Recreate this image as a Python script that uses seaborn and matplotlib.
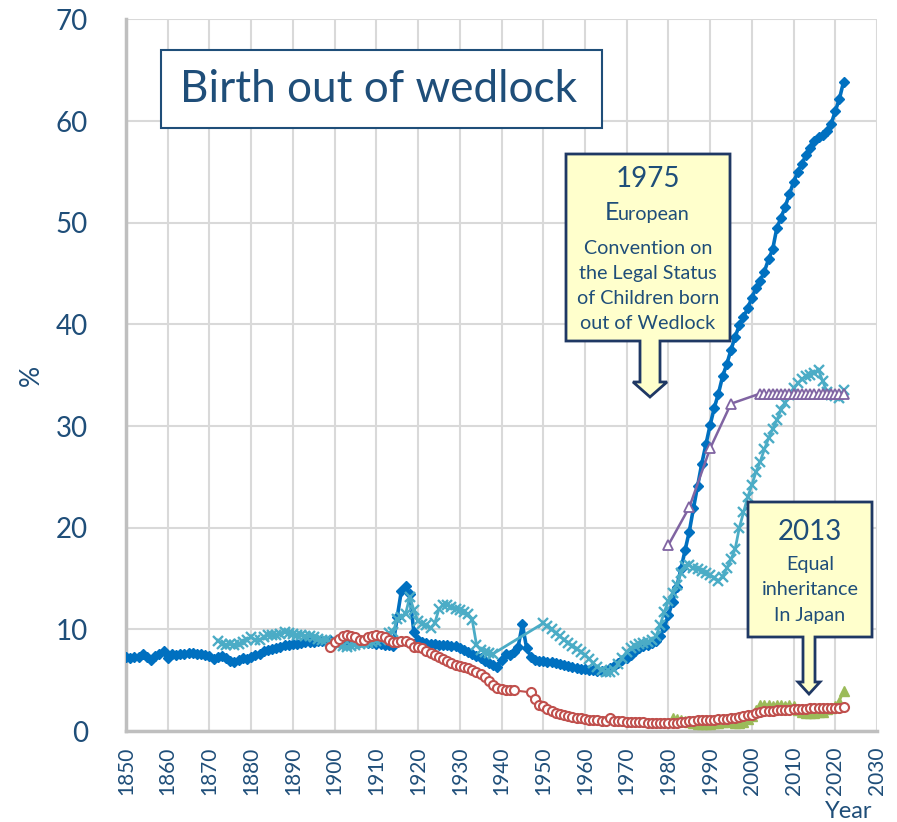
import matplotlib
matplotlib.use('Agg')
import matplotlib.pyplot as plt
import seaborn as sns
import pandas as pd
from matplotlib.patches import Polygon, Rectangle

# ---------------- data ----------------
blue_years = list(range(1850, 2023))
blue_vals = [
    7.3, 7.2, 7.3, 7.3, 7.6, 7.3, 7.0, 7.4, 7.6, 7.9,
    7.2, 7.6, 7.5, 7.6, 7.6, 7.7, 7.7, 7.6, 7.6, 7.5,
    7.4, 7.1, 7.3, 7.4, 7.2, 6.9, 6.8, 7.0, 7.2, 7.1,
    7.3, 7.5, 7.6, 7.9, 8.0, 8.1, 8.2, 8.3, 8.5, 8.5,
    8.6, 8.6, 8.7, 8.8, 8.8, 8.8, 8.9, 8.9, 8.9, 9.0,
    8.8, 8.9, 8.8, 8.8, 8.8, 8.9, 8.8, 8.8, 8.7, 8.7,
    8.6, 8.6, 8.5, 8.5, 8.4, 11.2, 13.8, 14.3, 13.5, 9.7,
    9.0, 8.8, 8.7, 8.6, 8.6, 8.5, 8.5, 8.5, 8.4, 8.4,
    8.2, 8.0, 7.8, 7.6, 7.4, 7.2, 6.9, 6.7, 6.5, 6.3,
    7.0, 7.6, 7.5, 7.8, 8.3, 10.5, 8.2, 7.3, 7.0, 6.9,
    6.9, 6.8, 6.8, 6.7, 6.6, 6.5, 6.4, 6.3, 6.2, 6.1,
    6.1, 6.0, 6.0, 5.9, 5.9, 5.9, 6.2, 6.4, 6.7, 7.0,
    7.2, 7.5, 7.9, 8.2, 8.4, 8.5, 8.7, 8.9, 9.3, 10.2,
    11.4, 12.7, 14.2, 15.9, 17.8, 19.6, 21.9, 24.1, 26.3, 28.2,
    30.1, 31.8, 33.2, 34.9, 36.1, 37.5, 38.8, 39.9, 40.7, 41.6,
    42.6, 43.6, 44.3, 45.2, 46.4, 47.4, 49.5, 50.5, 51.6, 52.8,
    54.0, 55.0, 55.8, 56.7, 57.4, 58.0, 58.4, 58.6, 59.0, 59.7,
    61.0, 62.2, 63.9,
]

cyan_years = list(range(1872, 1939)) + list(range(1950, 2023))
cyan_vals = [
    8.9, 8.6, 8.5, 8.6, 8.5, 8.6, 8.8, 9.0,
    9.2, 9.0, 9.0, 9.2, 9.4, 9.4, 9.4, 9.5, 9.7, 9.6,
    9.5, 9.4, 9.4, 9.3, 9.3, 9.2, 9.1, 9.0, 9.0, 8.8,
    8.7, 8.5, 8.4, 8.3, 8.4, 8.5, 8.6, 8.7, 8.7, 8.8,
    8.9, 9.0, 9.2, 9.6, 9.7, 11.0, 11.2, 11.5, 13.2, 11.9,
    10.8, 10.5, 10.4, 10.1, 10.6, 12.0, 12.4, 12.4, 12.2, 12.0,
    11.9, 11.7, 11.5, 10.9, 8.5, 8.0, 7.8, 7.7, 7.6,
    10.6, 10.3, 10.0, 9.6, 9.3, 9.0, 8.7, 8.4, 8.1, 7.8,
    7.5, 7.1, 6.7, 6.3, 6.0, 5.8, 5.8, 6.0, 6.6, 7.2,
    7.8, 8.2, 8.4, 8.6, 8.7, 8.8, 9.0, 9.3, 10.4, 11.7,
    12.8, 13.6, 14.4, 15.5, 16.2, 16.3, 16.0, 15.9, 15.7, 15.5,
    15.3, 15.1, 14.8, 15.2, 16.0, 16.9, 17.9, 20.0, 21.5, 23.0,
    24.2, 25.5, 26.5, 27.7, 28.8, 29.7, 30.6, 31.6, 32.3, 33.1,
    33.7, 34.2, 34.6, 34.9, 35.0, 35.2, 35.5, 34.4, 33.4, 33.1,
    33.0, 32.8, 33.5,
]

red_years = list(range(1899, 1944)) + list(range(1947, 2023))
red_vals = [
    8.3, 8.8, 9.1, 9.3, 9.4, 9.3, 9.2, 9.0, 9.0, 9.2, 9.3,
    9.4, 9.3, 9.2, 9.0, 8.8, 8.8, 8.9, 8.9, 8.7, 8.3,
    8.3, 8.2, 7.9, 7.7, 7.5, 7.3, 7.1, 6.9, 6.7, 6.5,
    6.4, 6.3, 6.2, 6.0, 5.8, 5.6, 5.3, 4.9, 4.5, 4.2,
    4.1, 4.0, 4.0, 4.0,
    3.8, 3.1, 2.6,
    2.5, 2.2, 2.0, 1.8, 1.7, 1.6, 1.5, 1.4, 1.3, 1.3,
    1.2, 1.1, 1.1, 1.1, 1.0, 1.0, 1.3, 1.0, 1.0, 0.95,
    0.9, 0.9, 0.9, 0.9, 0.85, 0.8, 0.8, 0.8, 0.8, 0.8,
    0.8, 0.8, 0.8, 0.85, 0.9, 1.0, 1.0, 1.05, 1.05, 1.1,
    1.1, 1.1, 1.15, 1.2, 1.2, 1.25, 1.3, 1.4, 1.5, 1.6,
    1.6, 1.8, 1.9, 2.0, 2.0, 2.0, 2.1, 2.1, 2.1, 2.1,
    2.2, 2.2, 2.2, 2.2, 2.3, 2.3, 2.3, 2.3, 2.3, 2.3,
    2.3, 2.3, 2.4,
]

purple_years = [1980, 1985, 1990, 1995] + list(range(2002, 2023))
purple_vals = [18.3, 22.0, 27.8, 32.2,
               33.2, 33.2, 33.2, 33.2, 33.2, 33.2, 33.2, 33.2, 33.2, 33.2,
               33.2, 33.2, 33.2, 33.2, 33.2, 33.2, 33.2, 33.2, 33.2, 33.2, 33.2]

green_years = list(range(1981, 2023))
green_vals = [
    1.3, 1.2, 1.1, 1.0, 0.9, 0.8, 0.7, 0.7, 0.7,
    0.7, 0.8, 0.8, 0.9, 0.9, 1.2, 0.8, 0.8, 0.9, 1.2,
    1.5, 2.1, 2.6, 2.6, 2.6, 2.5, 2.6, 2.6, 2.5, 2.6,
    2.5, 2.1, 1.9, 1.8, 1.8, 1.8, 1.9, 1.9, 2.2, 2.3,
    2.5, 2.9, 3.9,
]

x_ticks = list(range(1850, 2031, 10))
y_ticks = list(range(0, 71, 10))

title_text = "Birth out of wedlock"
note1_year = "1975"
note1_first = ("E", "uropean")
note1_lines = ["Convention on", "the Legal Status", "of Children born", "out of Wedlock"]
note2_year = "2013"
note2_lines = ["Equal", "inheritance", "In Japan"]

# ---------------- style ----------------
sns.set_style('white')
plt.rcParams['font.family'] = ['Lato', 'DejaVu Sans']
TXT = '#1F4E79'
BOX_EDGE = '#1F3864'
BOX_FILL = '#FFFFCC'

W, H = 897, 822
fig = plt.figure(figsize=(W / 100, H / 100), dpi=100)
ax = fig.add_axes([126 / W, 1 - 731 / H, (877 - 126) / W, (731 - 19.5) / H])


def P(px, py):
    return (px / W, 1 - py / H)


# series
sns.lineplot(x=green_years, y=green_vals, ax=ax, color='#9BBB59', lw=1.5,
             marker='^', markersize=7, markerfacecolor='#9BBB59',
             markeredgecolor='#9BBB59', markeredgewidth=1, zorder=3)
sns.lineplot(x=blue_years, y=blue_vals, ax=ax, color='#0070C0', lw=2.6,
             marker='D', markersize=5.2, markerfacecolor='#0070C0',
             markeredgecolor='#0070C0', markeredgewidth=1, zorder=4)
sns.lineplot(x=cyan_years, y=cyan_vals, ax=ax, color='#4BACC6', lw=2,
             marker='x', markersize=6.5, markeredgecolor='#4BACC6',
             markeredgewidth=1.7, zorder=5)
sns.lineplot(x=red_years, y=red_vals, ax=ax, color='#C0504D', lw=1.5,
             marker='o', markersize=6.5, markerfacecolor='white',
             markeredgecolor='#C0504D', markeredgewidth=1.5, zorder=6)
sns.lineplot(x=purple_years, y=purple_vals, ax=ax, color='#8064A2', lw=1.8,
             marker='^', markersize=7, markerfacecolor='white',
             markeredgecolor='#8064A2', markeredgewidth=1.3, zorder=6)

ax.set_xlim(1850, 2030)
ax.set_ylim(0, 70)
ax.set_xticks(x_ticks)
ax.set_yticks(y_ticks)
ax.set_xticklabels([str(t) for t in x_ticks], rotation=90, fontsize=15, color=TXT)
ax.set_yticklabels([str(t) for t in y_ticks], fontsize=20, color=TXT)
ax.tick_params(axis='x', length=0, pad=11)
ax.tick_params(axis='y', length=0, pad=27.5)
ax.grid(True, color='#D9D9D9', lw=1.5)
ax.set_axisbelow(True)
for s in ['top', 'right']:
    ax.spines[s].set_visible(False)
for s in ['left', 'bottom']:
    ax.spines[s].set_color('#BFBFBF')
    ax.spines[s].set_linewidth(2.5)
ax.set_xlabel('')
ax.set_ylabel('')

fig.text(*P(31, 375), '%', fontsize=19, color=TXT, rotation=90,
         ha='center', va='center')
fig.text(*P(849, 811), 'Year', fontsize=17, color=TXT, ha='center', va='center')

# title box
x0, y0 = P(160.6, 127.7)
x1, y1 = P(601.8, 49.6)
fig.patches.append(Rectangle((x0, y0), x1 - x0, y1 - y0, transform=fig.transFigure,
                             facecolor='white', edgecolor=TXT, lw=1.5, zorder=10))
fig.text(*P(379, 89), title_text, fontsize=31.8, color=TXT, ha='center',
         va='center', zorder=11)


def callout(left, top, right, bottom, sx0, sx1, head_y, hx0, hx1, tip_y):
    tip_x = (hx0 + hx1) / 2
    pts = [(left, top), (right, top), (right, bottom), (sx1, bottom), (sx1, head_y),
           (hx1, head_y), (tip_x, tip_y), (hx0, head_y), (sx0, head_y),
           (sx0, bottom), (left, bottom)]
    fig.patches.append(Polygon([P(*p) for p in pts], closed=True,
                               transform=fig.transFigure, facecolor=BOX_FILL,
                               edgecolor=BOX_EDGE, lw=2, joinstyle='miter', zorder=10))


NOTE_FS = 14.2
callout(566, 154, 730, 341, 640, 660, 382, 633, 667, 397)
fig.text(*P(648, 179), note1_year, fontsize=20, color=TXT, ha='center', va='center', zorder=11)
fig.text(*P(605, 220), note1_first[0], fontsize=18, color=TXT, ha='left',
         va='baseline', zorder=11)
fig.text(*P(618, 220), note1_first[1], fontsize=NOTE_FS, color=TXT, ha='left',
         va='baseline', zorder=11)
for i, line in enumerate(note1_lines):
    fig.text(*P(648, 248 + 25.3 * i), line, fontsize=NOTE_FS, color=TXT,
             ha='center', va='center', zorder=11)

callout(748, 502, 872, 637, 803, 815, 682, 798, 820, 694)
fig.text(*P(810, 532), note2_year, fontsize=20, color=TXT, ha='center', va='center', zorder=11)
for i, line in enumerate(note2_lines):
    fig.text(*P(810, 564 + 25.5 * i), line, fontsize=NOTE_FS, color=TXT,
             ha='center', va='center', zorder=11)

fig.savefig('out.png', dpi=100, facecolor='white')
